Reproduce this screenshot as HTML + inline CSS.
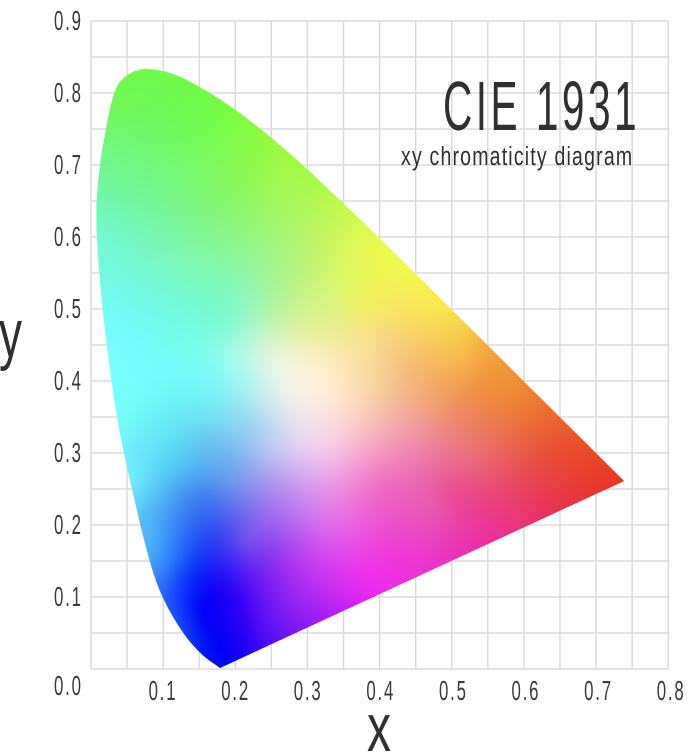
<!DOCTYPE html>
<html lang="en">
<head>
<meta charset="utf-8">
<title>CIE 1931 xy chromaticity diagram</title>
<style>
html,body{margin:0;padding:0;background:#fff;width:696px;height:752px;overflow:hidden}
svg{display:block;position:absolute;left:0;top:0}
text{font-family:"Liberation Sans",sans-serif}
</style>
</head>
<body>
<svg id="chart" xmlns="http://www.w3.org/2000/svg" width="696" height="752" viewBox="0 0 696 752">
  <defs>
    <clipPath id="locus-clip"><path id="locus-clip-path"></path></clipPath>
  </defs>
  <g id="grid"></g>
  <g clip-path="url(#locus-clip)">
    <foreignObject x="0" y="0" width="696" height="752">
      <canvas id="field" width="696" height="752" style="display:block"></canvas>
    </foreignObject>
  </g>
  <g id="x-ticks"></g>
  <g id="y-ticks"></g>
  <text transform="translate(443,130) scale(0.58,1)" font-size="70" fill="#303030" letter-spacing="6">CIE 1931</text>
  <text transform="translate(401,165) scale(0.75,1)" font-size="26" fill="#303030" letter-spacing="1.6">xy chromaticity diagram</text>
  <text x="367" y="751" font-size="68" fill="#303030" textLength="24" lengthAdjust="spacingAndGlyphs">x</text>
  <text x="-1" y="357" font-size="68" fill="#303030" textLength="23" lengthAdjust="spacingAndGlyphs">y</text>
</svg>
<script>
// Axis ticks
const gridX = [0,0.05,0.1,0.15,0.2,0.25,0.3,0.35,0.4,0.45,0.5,0.55,0.6,0.65,0.7,0.75,0.8];
const gridY = [0,0.05,0.1,0.15,0.2,0.25,0.3,0.35,0.4,0.45,0.5,0.55,0.6,0.65,0.7,0.75,0.8,0.85,0.9];
const xTickLabels = ['0.1','0.2','0.3','0.4','0.5','0.6','0.7','0.8'];
const yTickLabels = ['0.0','0.1','0.2','0.3','0.4','0.5','0.6','0.7','0.8','0.9'];

// Spectral locus (chromaticity coordinates, blue end to red end)
const locusX = [0.1788,0.1540,0.1289,0.0998,0.0818,0.0568,0.0360,0.0194,0.0100,0.0075,0.0125,0.0208,0.0305,0.0402,0.0568,0.0776,0.1142,0.1547,0.1929,0.2296,0.2658,0.3016,0.3731,0.4441,0.5125,0.5752,0.6270,0.6658,0.7390];
const locusY = [0.0014,0.0200,0.0486,0.0986,0.1486,0.2500,0.3500,0.4708,0.5700,0.6400,0.7000,0.7500,0.7944,0.8153,0.8285,0.8333,0.8262,0.8059,0.7816,0.7543,0.7243,0.6923,0.6245,0.5547,0.4866,0.4242,0.3725,0.3340,0.2610];

// Colours at chromaticity positions
const sampleX = [0.077,0.174,0.276,0.391,0.452,0.543,0.026,0.017,0.044,0.137,0.183,0.276,0.207,0.276,0.238,0.304,0.183,0.345,0.391,0.438,0.543,0.322,0.094,0.055,0.157,0.227,0.309,0.323,0.141,0.094,0.118,0.166,0.151,0.180,0.213,0.237,0.285,0.237,0.380,0.333,0.342,0.419,0.475,0.547,0.629,0.714,0.643,0.524,0.475,0.571,0.524,
  0.008,0.0125,0.025,0.300,0.373,0.444,0.5125,0.5752,0.627,0.6658,0.0715,0.0925,0.127,0.25,0.30,0.35,0.40,0.45,0.50,0.55,0.60,0.65,
  0.058,0.058,0.082,0.105,0.151,0.151,0.128,0.197,0.197,0.244,0.266,0.266,0.244,0.175,0.266,
  0.234,0.179,0.317,0.317,0.2717,0.317,0.248,0.202,0.2245,0.387,0.317,0.248,0.193,0.456,0.456,0.456,0.40,0.4976,0.4976,0.48,0.363];
const sampleY = [0.818,0.767,0.693,0.586,0.536,0.447,0.707,0.614,0.475,0.568,0.661,0.568,0.499,0.429,0.433,0.406,0.439,0.499,0.475,0.429,0.397,0.453,0.411,0.294,0.318,0.342,0.342,0.294,0.249,0.197,0.133,0.179,0.078,0.026,0.179,0.249,0.110,0.064,0.119,0.203,0.258,0.156,0.225,0.179,0.225,0.258,0.318,0.294,0.350,0.387,0.433,
  0.655,0.538,0.780,0.690,0.620,0.552,0.485,0.422,0.370,0.332,0.200,0.133,0.058,0.034,0.057,0.080,0.103,0.126,0.150,0.173,0.196,0.220,
  0.356,0.2625,0.193,0.142,0.1375,0.239,0.286,0.2625,0.193,0.169,0.147,0.2625,0.332,0.346,0.378,
  0.415,0.415,0.392,0.355,0.360,0.304,0.304,0.272,0.239,0.397,0.467,0.489,0.489,0.419,0.350,0.294,0.253,0.249,0.350,0.489,0.503];
const sampleColor = ['#70f950','#74fb48','#a8f94a','#e8f850','#f8f050','#f4a93f','#70f78a','#72f9c8','#74fbf8','#80f8b0','#85f868','#b0f480','#90f8d0','#f3f3d8','#dcf6e4','#fbf0dc','#95fbe8','#e0f28a','#f5e080','#f5c080','#f09040','#f3eeb0','#76fbf8','#70e8fa','#6cc4f0','#a8d4f2','#f5dfe8','#edc0ec','#4a8ef0','#4aa0f8','#1a50f8','#2840f4','#0000f8','#0000f5','#7b55ee','#a08cee','#a02cf0','#5a10f4','#ea2cf0','#e070ea','#ee94e0','#ea38d8','#e85cb0','#ea30a0','#e83558','#e83828','#e8552f','#ea7080','#f09a7c','#ef9038','#f4b84c',
  '#72f8a8','#74fbe8','#70f858','#a0fa48','#d8f850','#f0f850','#f8d848','#f09838','#ee7530','#ec5a2c','#50b0f8','#3a80f8','#1848f8','#5010f4','#8a18f2','#c020f0','#ea2cf0','#ea34d8','#ea30c0','#ea30a0','#e8337a','#e83550',
  '#72fbf8','#70eefa','#50c0f8','#2c8cf8','#0a28f8','#3a80f0','#50c8f4','#7aa0ea','#5050f0','#8040f0','#a030f0','#b89cee','#b4d4f2','#74e0f0','#e8f0e8',
  '#c8f6e8','#88fbf4','#fcefd8','#fbe4e4','#e5e8ee','#f2cdea','#c0c8f0','#6f9ef0','#8a80ec','#f6d8a0','#eaee90','#b8f4a8','#80f8c8','#f5b868','#f0a090','#ec7cae','#ee6cc0','#ea4c90','#ee8a70','#f8e050','#eaf060'];

const SVGNS = 'http://www.w3.org/2000/svg';
function px(v){ return 91 + v * 721.5; }
function py(v){ return 669 - v * 720; }

// Grid lines
const gridGroup = document.getElementById('grid');
gridX.forEach(function(v){
  const l = document.createElementNS(SVGNS,'line');
  
  
  l.setAttribute('x1', px(v)); l.setAttribute('x2', px(v));
  l.setAttribute('y1', py(0.9)); l.setAttribute('y2', py(0));
  l.setAttribute('stroke', '#d9d9d9'); l.setAttribute('stroke-width', '1.4');
  gridGroup.appendChild(l);
});
gridY.forEach(function(v){
  const l = document.createElementNS(SVGNS,'line');
  
  
  l.setAttribute('x1', px(0)); l.setAttribute('x2', px(0.8));
  l.setAttribute('y1', py(v)); l.setAttribute('y2', py(v));
  l.setAttribute('stroke', '#dcdcdc'); l.setAttribute('stroke-width', '1.4');
  gridGroup.appendChild(l);
});

// Tick labels
const xTickGroup = document.getElementById('x-ticks');
xTickLabels.forEach(function(s){
  const v = parseFloat(s);
  const cx = px(v) - 1.43 + 4.3 * v;
  const t = document.createElementNS(SVGNS,'text');
  
  
  t.setAttribute('transform', 'translate(' + (cx - 13.5) + ',700) scale(0.6,1)');
  t.setAttribute('font-size', '28'); t.setAttribute('fill', '#3a3a3a');
  t.setAttribute('letter-spacing', '3');
  t.textContent = s;
  xTickGroup.appendChild(t);
});
const yTickGroup = document.getElementById('y-ticks');
yTickLabels.forEach(function(s){
  const v = parseFloat(s);
  const t = document.createElementNS(SVGNS,'text');
  
  
  t.setAttribute('transform', 'translate(54,' + (v === 0 ? 695 : py(v) + 9) + ') scale(0.6,1)');
  t.setAttribute('font-size', '28'); t.setAttribute('fill', '#3a3a3a');
  t.setAttribute('letter-spacing', '3');
  t.textContent = s;
  yTickGroup.appendChild(t);
});

// Locus outline: smooth curve through spectral points (unit tangents, handles scaled
// to each segment so uneven spacing cannot kink), straight purple line back
function locusPath(){
  const P = locusX.map(function(v,i){ return [px(v), py(locusY[i])]; });
  function tangent(i){
    const a = P[Math.max(i-1,0)], b = P[Math.min(i+1,P.length-1)];
    const dx = b[0]-a[0], dy = b[1]-a[1], m = Math.hypot(dx,dy) || 1;
    return [dx/m, dy/m];
  }
  let d = 'M' + P[0][0].toFixed(2) + ' ' + P[0][1].toFixed(2);
  for (let i = 0; i < P.length - 1; i++){
    const p1 = P[i], p2 = P[i+1], t1 = tangent(i), t2 = tangent(i+1);
    const h = Math.hypot(p2[0]-p1[0], p2[1]-p1[1]) / 3;
    d += 'C' + [p1[0]+t1[0]*h, p1[1]+t1[1]*h, p2[0]-t2[0]*h, p2[1]-t2[1]*h, p2[0], p2[1]].map(function(n){return n.toFixed(2);}).join(' ');
  }
  return d + 'Z';
}
document.getElementById('locus-clip-path').setAttribute('d', locusPath());

// Colour field: thin-plate spline through the colour samples, rendered per pixel
(function(){
  const c = document.getElementById('field');
  const ctx = c.getContext('2d');
  const W = c.width, H = c.height;
  const img = ctx.createImageData(W, H);
  const xs = sampleX.map(function(v){ return px(v) / 100; });
  const ys = sampleY.map(function(v){ return py(v) / 100; });
  const n = xs.length, N = n + 3, lambda = 0.03;
  function phi(d2){ return d2 > 1e-9 ? 0.5 * d2 * Math.log(d2) : 0; }
  const A = [];
  for (let i = 0; i < N; i++){ A.push(new Float64Array(N + 3)); }
  for (let i = 0; i < n; i++){
    for (let j = 0; j < n; j++){
      const dx = xs[i]-xs[j], dy = ys[i]-ys[j];
      A[i][j] = phi(dx*dx + dy*dy) + (i === j ? lambda : 0);
    }
    A[i][n] = 1; A[i][n+1] = xs[i]; A[i][n+2] = ys[i];
    A[n][i] = 1; A[n+1][i] = xs[i]; A[n+2][i] = ys[i];
    const h = sampleColor[i];
    A[i][N]   = parseInt(h.slice(1,3),16);
    A[i][N+1] = parseInt(h.slice(3,5),16);
    A[i][N+2] = parseInt(h.slice(5,7),16);
  }
  for (let k = 0; k < N; k++){
    let p = k;
    for (let i = k + 1; i < N; i++){ if (Math.abs(A[i][k]) > Math.abs(A[p][k])) p = i; }
    const tmp = A[k]; A[k] = A[p]; A[p] = tmp;
    for (let i = 0; i < N; i++){
      if (i === k) continue;
      const f = A[i][k] / A[k][k];
      if (f === 0) continue;
      for (let j = k; j < N + 3; j++){ A[i][j] -= f * A[k][j]; }
    }
  }
  const wR = [], wG = [], wB = [];
  for (let i = 0; i < N; i++){
    wR.push(A[i][N] / A[i][i]); wG.push(A[i][N+1] / A[i][i]); wB.push(A[i][N+2] / A[i][i]);
  }
  const x0 = Math.max(Math.floor(Math.min.apply(null, locusX.map(px))) - 2, 0);
  const x1 = Math.min(Math.ceil(Math.max.apply(null, locusX.map(px))) + 2, W);
  const y0 = Math.max(Math.floor(Math.min.apply(null, locusY.map(py))) - 2, 0);
  const y1 = Math.min(Math.ceil(Math.max.apply(null, locusY.map(py))) + 2, H);
  for (let y = y0; y < y1; y++){
    const Y = y / 100;
    for (let x = x0; x < x1; x++){
      const X = x / 100;
      let r = wR[n] + wR[n+1]*X + wR[n+2]*Y;
      let g = wG[n] + wG[n+1]*X + wG[n+2]*Y;
      let b = wB[n] + wB[n+1]*X + wB[n+2]*Y;
      for (let i = 0; i < n; i++){
        const dx = X - xs[i], dy = Y - ys[i];
        const e = phi(dx*dx + dy*dy);
        r += wR[i]*e; g += wG[i]*e; b += wB[i]*e;
      }
      const o = (y * W + x) * 4;
      img.data[o] = r; img.data[o+1] = g; img.data[o+2] = b; img.data[o+3] = 255;
    }
  }
  ctx.putImageData(img, 0, 0);
})();
</script>
</body>
</html>
